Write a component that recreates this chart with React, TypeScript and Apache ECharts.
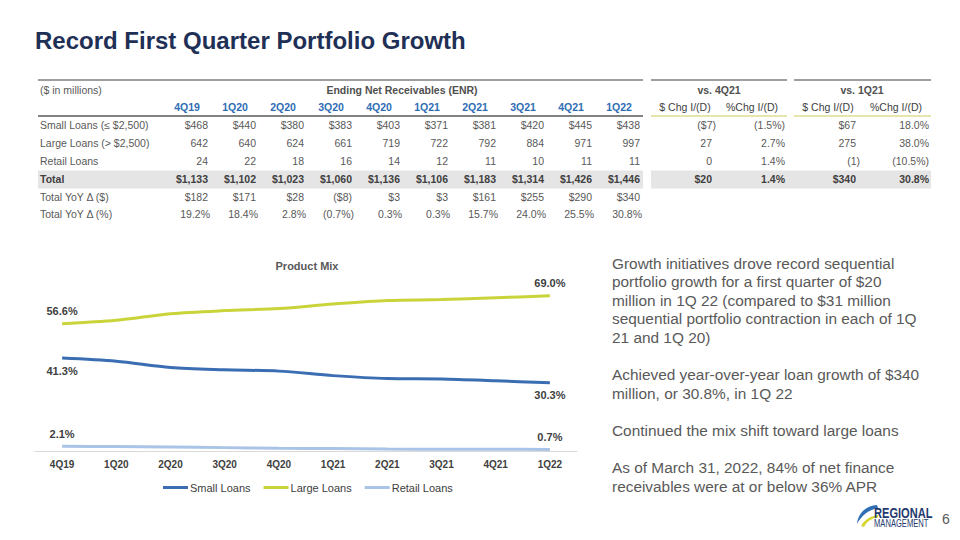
import React, { useEffect, useRef } from "react";
import * as echarts from "echarts";

// ---------- DATA ----------
const quarters = ["4Q19", "1Q20", "2Q20", "3Q20", "4Q20", "1Q21", "2Q21", "3Q21", "4Q21", "1Q22"];
const smallLoans = [468, 440, 380, 383, 403, 371, 381, 420, 445, 438];
const largeLoans = [642, 640, 624, 661, 719, 722, 792, 884, 971, 997];
const retailLoans = [24, 22, 18, 16, 14, 12, 11, 10, 11, 11];
const totals = [1133, 1102, 1023, 1060, 1136, 1106, 1183, 1314, 1426, 1446];
const yoyDollar = [182, 171, 28, -8, 3, 3, 161, 255, 290, 340];
const yoyPct = [19.2, 18.4, 2.8, -0.7, 0.3, 0.3, 15.7, 24.0, 25.5, 30.8];

const vs4Q21Dollar = [-7, 27, 0, 20];
const vs4Q21Pct = [-1.5, 2.7, 1.4, 1.4];
const vs1Q21Dollar = [67, 275, -1, 340];
const vs1Q21Pct = [18.0, 38.0, -10.5, 30.8];

const rowLabels = ["Small Loans (≤ $2,500)", "Large Loans (> $2,500)", "Retail Loans", "Total", "Total YoY Δ ($)", "Total YoY Δ (%)"];

const smallShare = [41.3, 39.9, 37.1, 36.1, 35.5, 33.5, 32.2, 32.0, 31.2, 30.3];
const largeShare = [56.6, 58.1, 61.0, 62.4, 63.3, 65.3, 66.9, 67.3, 68.1, 69.0];
const retailShare = [2.1, 2.0, 1.8, 1.5, 1.2, 1.1, 0.9, 0.8, 0.8, 0.7];

const bulletText = [
  ["Growth initiatives drove record sequential", "portfolio growth for a first quarter of $20", "million in 1Q 22 (compared to $31 million", "sequential portfolio contraction in each of 1Q", "21 and 1Q 20)"],
  ["Achieved year-over-year loan growth of $340", "million, or 30.8%, in 1Q 22"],
  ["Continued the mix shift toward large loans"],
  ["As of March 31, 2022, 84% of net finance", "receivables were at or below 36% APR"],
];

// ---------- HELPERS ----------
const FF = "'Liberation Sans', Arial, sans-serif";
const fmtNum = (v: number, dollar: boolean) => {
  const s = Math.abs(v).toLocaleString("en-US");
  const body = (dollar ? "$" : "") + s;
  return v < 0 ? `(${body})` : body;
};
const fmtPct = (v: number) => (v < 0 ? `(${Math.abs(v).toFixed(1)}%)` : `${v.toFixed(1)}%`);

let shapeRegistered = false;
function registerShapes() {
  if (shapeRegistered) return;
  shapeRegistered = true;
  echarts.graphic.registerShape(
    "swooshBlue",
    echarts.graphic.extendPath("M 20 0 C 9 1 1 8 0 19 C 4 11 11 5 21 3 Z", {})
  );
  echarts.graphic.registerShape(
    "swooshYellow",
    echarts.graphic.extendPath("M 4 21 C 8 14 14 11 21 10 L 21 12.5 C 15 13 10 16 7 22 Z", {})
  );
}

function txt(x: number, y: number, text: string, opts: any = {}) {
  return {
    type: "text",
    x,
    y,
    silent: true,
    style: {
      text,
      fill: opts.fill || "#595959",
      font: `${opts.weight || "normal"} ${opts.size || 10.5}px ${FF}`,
      align: opts.align || "left",
      verticalAlign: "middle",
    },
  };
}
function line(x1: number, y1: number, x2: number, y2: number, stroke: string, w = 1) {
  return { type: "line", silent: true, shape: { x1, y1, x2, y2 }, style: { stroke, lineWidth: w } };
}

export default function App() {
  const ref = useRef<HTMLDivElement>(null);
  useEffect(() => {
    if (!ref.current) return;
    registerShapes();
    const chart = echarts.init(ref.current, null, { renderer: "svg" });

    const g: any[] = [];
    // Title
    g.push(txt(35, 40, "Record First Quarter Portfolio Growth", { fill: "#1f3056", weight: "bold", size: 24 }));

    // Table rules
    const tableTop = 80;
    const headUnder = 116;
    g.push(line(38, tableTop, 643, tableTop, "#404040", 1.2));
    g.push(line(651, tableTop, 787, tableTop, "#404040", 1.2));
    g.push(line(794, tableTop, 931, tableTop, "#404040", 1.2));
    g.push(line(38, headUnder, 643, headUnder, "#595959", 1.5));
    g.push(line(651, headUnder, 787, headUnder, "#dedd8e", 1.5));
    g.push(line(794, headUnder, 931, headUnder, "#dedd8e", 1.5));

    const rowY = [125, 143, 161, 179, 197, 214];
    // Total band
    g.push({ type: "rect", silent: true, shape: { x: 38, y: 170.5, width: 605, height: 18 }, style: { fill: "#e6e5e6" } });
    g.push({ type: "rect", silent: true, shape: { x: 651, y: 170.5, width: 280, height: 18 }, style: { fill: "#e6e5e6" } });

    g.push(txt(40, 90, "($ in millions)"));
    g.push(txt(402, 90, "Ending Net Receivables (ENR)", { align: "center", weight: "bold", fill: "#505050" }));
    g.push(txt(719, 90, "vs. 4Q21", { align: "center", weight: "bold", fill: "#505050" }));
    g.push(txt(862, 90, "vs. 1Q21", { align: "center", weight: "bold", fill: "#505050" }));

    const colR = quarters.map((_, i) => 208 + 48 * i);
    quarters.forEach((q, i) => {
      g.push(txt(colR[i] - 21, 107, q, { align: "center", weight: "bold", fill: "#2f6db5" }));
    });
    g.push(txt(685, 107, "$ Chg I/(D)", { align: "center", fill: "#404040" }));
    g.push(txt(752, 107, "%Chg I/(D)", { align: "center", fill: "#404040" }));
    g.push(txt(828, 107, "$ Chg I/(D)", { align: "center", fill: "#404040" }));
    g.push(txt(896, 107, "%Chg I/(D)", { align: "center", fill: "#404040" }));

    rowLabels.forEach((lab, r) => {
      g.push(txt(40, rowY[r], lab, { weight: r === 3 ? "bold" : "normal", fill: r === 3 ? "#404040" : "#595959" }));
    });

    const rows: string[][] = [
      smallLoans.map((v) => fmtNum(v, true)),
      largeLoans.map((v) => fmtNum(v, false)),
      retailLoans.map((v) => fmtNum(v, false)),
      totals.map((v) => fmtNum(v, true)),
      yoyDollar.map((v) => fmtNum(v, true)),
      yoyPct.map((v) => fmtPct(v)),
    ];
    rows.forEach((row, r) => {
      row.forEach((s, i) => {
        const x = colR[i] + (r === 5 ? 2 : 0);
        g.push(txt(x, rowY[r], s, { align: "right", weight: r === 3 ? "bold" : "normal", fill: r === 3 ? "#404040" : "#595959" }));
      });
    });

    const vsCols = [
      { vals: vs4Q21Dollar, x: 712, dollar: true },
      { vals: vs4Q21Pct, x: 785, dollar: false },
      { vals: vs1Q21Dollar, x: 856, dollar: true },
      { vals: vs1Q21Pct, x: 929, dollar: false },
    ];
    vsCols.forEach((c) => {
      c.vals.forEach((v, r) => {
        const isD = r === 0 || r === 3;
        const s = c.dollar ? fmtNum(v, isD) : fmtPct(v);
        const x = c.dollar && v < 0 ? c.x + 4 : c.x;
        g.push(txt(x, rowY[r], s, { align: "right", weight: r === 3 ? "bold" : "normal", fill: r === 3 ? "#404040" : "#595959" }));
      });
    });

    // Right panel text
    let y = 263;
    bulletText.forEach((para) => {
      para.forEach((l) => {
        g.push(txt(612, y, l, { size: 15.4, fill: "#595959" }));
        y += 18.6;
      });
      y += 18.6;
    });

    // Logo
    g.push({ type: "swooshBlue", x: 857, y: 505, silent: true, style: { fill: "#2f6db5" } });
    g.push({ type: "swooshYellow", x: 857, y: 505, silent: true, style: { fill: "#d6d62e" } });
    g.push({
      type: "text", x: 874, y: 513, scaleX: 0.74, silent: true,
      style: { text: "REGIONAL", fill: "#1f3a6e", font: `bold 15px ${FF}`, align: "left", verticalAlign: "middle" },
    });
    g.push({
      type: "text", x: 874, y: 524, scaleX: 0.76, silent: true,
      style: { text: "MANAGEMENT", fill: "#1f3a6e", font: `normal 10px ${FF}`, align: "left", verticalAlign: "middle" },
    });
    g.push(txt(942, 519, "6", { size: 14, fill: "#595959" }));

    const endLabel = (arr: number[], posFirst: string, posLast: string) =>
      arr.map((v, i) => {
        if (i === 0 || i === arr.length - 1) {
          return {
            value: v,
            label: {
              show: true,
              position: i === 0 ? posFirst : posLast,
              distance: 7,
              formatter: (p: any) => `${Number(p.value).toFixed(1)}%`,
              color: "#404040",
              fontWeight: "bold",
              fontSize: 11,
              fontFamily: FF,
            },
          };
        }
        return v;
      });

    const mkSeries = (name: string, data: any[], color: string) => ({
      name,
      type: "line",
      data,
      smooth: 0.3,
      symbol: "circle",
      symbolSize: 0,
      showSymbol: true,
      lineStyle: { width: 3, color },
      itemStyle: { color },
    });

    chart.setOption({
      animation: false,
      backgroundColor: "#ffffff",
      title: {
        text: "Product Mix",
        left: 302,
        top: 255,
        textAlign: "center",
        textStyle: { fontFamily: FF, fontSize: 11, fontWeight: "bold", color: "#595959" },
      },
      grid: { left: 35, top: 226, width: 542, height: 225, containLabel: false },
      xAxis: {
        type: "category",
        data: quarters,
        boundaryGap: true,
        axisLine: { lineStyle: { color: "#d9d9d9", width: 1 } },
        axisTick: { show: false },
        axisLabel: { fontFamily: FF, fontSize: 10, fontWeight: "bold", color: "#404040", margin: 8 },
      },
      yAxis: { type: "value", min: 0, max: 100, show: false, splitLine: { show: false } },
      legend: {
        left: 158,
        top: 477,
        icon: "rect",
        itemWidth: 25,
        itemHeight: 3,
        itemGap: 13,
        textStyle: { fontFamily: FF, fontSize: 11, color: "#404040", padding: [0, 0, 0, -3] },
        data: ["Small Loans", "Large Loans", "Retail Loans"],
      },
      series: [
        mkSeries("Small Loans", endLabel(smallShare, "bottom", "bottom"), "#3b6db3"),
        mkSeries("Large Loans", endLabel(largeShare, "top", "top"), "#c9d43a"),
        mkSeries("Retail Loans", endLabel(retailShare, "top", "top"), "#a9c4e6"),
      ],
      graphic: g,
    });

    return () => chart.dispose();
  }, []);

  return (
    <div
      ref={ref}
      style={{ position: "absolute", left: 0, top: 0, width: 960, height: 540, background: "#fff" }}
    />
  );
}
